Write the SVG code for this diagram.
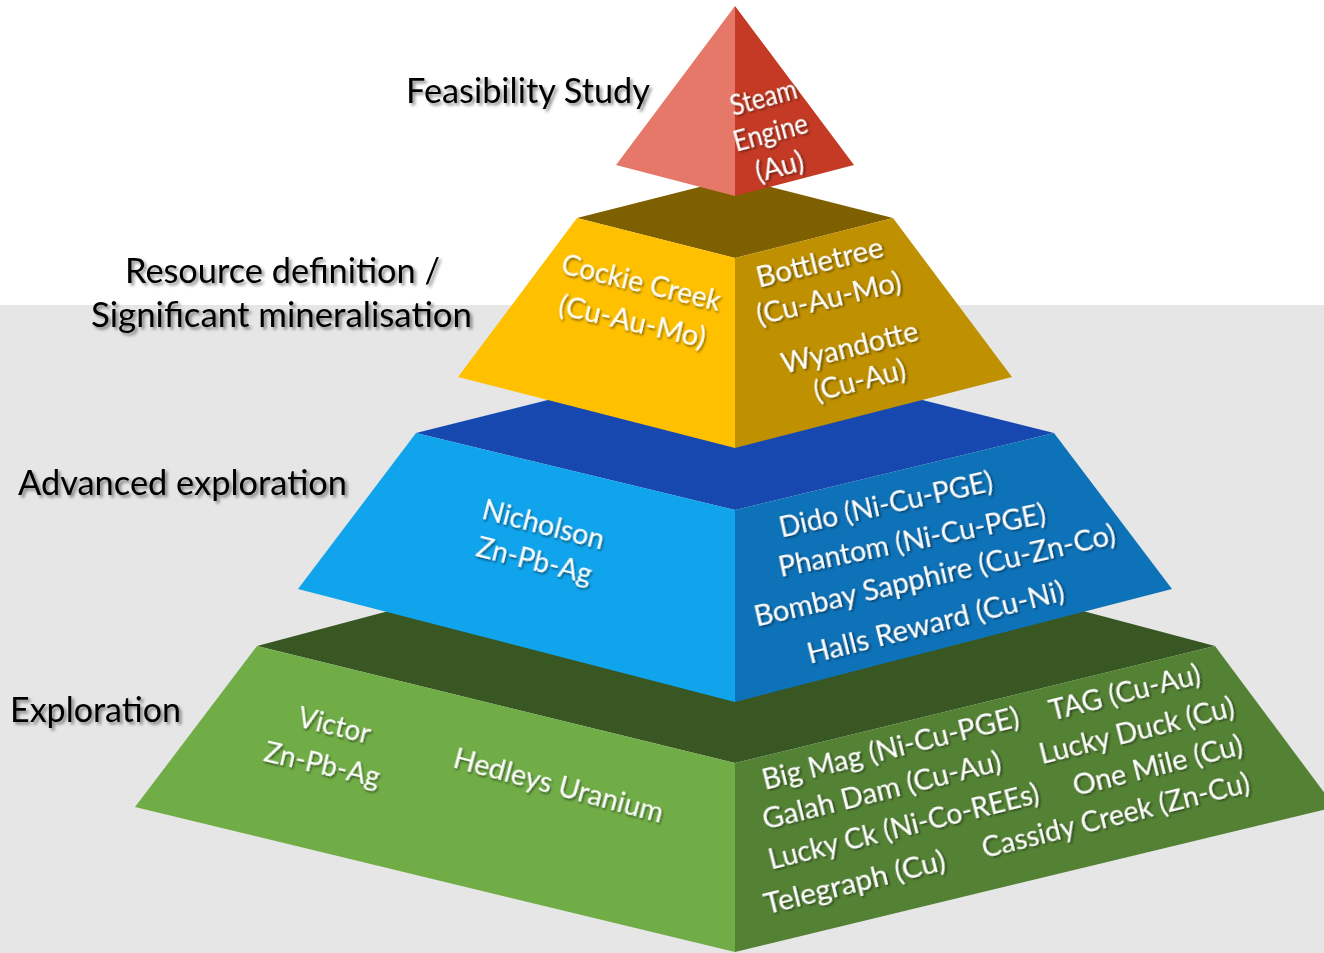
<svg xmlns="http://www.w3.org/2000/svg" width="1324" height="953" viewBox="0 0 1324 953">
<defs>
<filter id="shL" x="-10%" y="-40%" width="125%" height="190%"><feDropShadow dx="2.5" dy="2.5" stdDeviation="1.8" flood-color="#000" flood-opacity="0.45"/></filter>
<filter id="shW" x="-10%" y="-40%" width="125%" height="190%"><feDropShadow dx="1.5" dy="1.5" stdDeviation="1.2" flood-color="#000" flood-opacity="0.55"/></filter>
</defs>
<style>
.lbl{font-family:Lato,"Liberation Sans",sans-serif;font-size:35px;fill:#000;filter:url(#shL)}
.t{font-family:Lato,"Liberation Sans",sans-serif;font-size:28px;fill:#fff;text-anchor:middle;filter:url(#shW)}
</style>
<rect x="0" y="0" width="1324" height="305" fill="#ffffff"/>
<rect x="0" y="305" width="1324" height="648" fill="#E7E6E6"/>
<g id="connectors"/>
<g id="tier-exploration">
<polygon points="257,646 735,519 1215,646 735,763" fill="#385723"/>
<polygon points="257,646 735,763 735,952 135,807" fill="#70AD47"/>
<polygon points="735,763 1215,646 1335,807 735,952" fill="#548235"/>
<text class="t" x="332" y="735" transform="rotate(14 332 735)" textLength="74" lengthAdjust="spacingAndGlyphs">Victor</text>
<text class="t" x="320" y="774" transform="rotate(13 320 774)" textLength="118" lengthAdjust="spacingAndGlyphs">Zn-Pb-Ag</text>
<text class="t" x="556" y="795" transform="rotate(15 556 795)" textLength="216" lengthAdjust="spacingAndGlyphs">Hedleys Uranium</text>
<text class="t" x="893" y="758" transform="rotate(-14 893 758)" textLength="264" lengthAdjust="spacingAndGlyphs">Big Mag (Ni-Cu-PGE)</text>
<text class="t" x="884" y="800" transform="rotate(-14 884 800)" textLength="245" lengthAdjust="spacingAndGlyphs">Galah Dam (Cu-Au)</text>
<text class="t" x="906" y="836" transform="rotate(-14 906 836)" textLength="278" lengthAdjust="spacingAndGlyphs">Lucky Ck (Ni-Co-REEs)</text>
<text class="t" x="857" y="892" transform="rotate(-14 857 892)" textLength="186" lengthAdjust="spacingAndGlyphs">Telegraph (Cu)</text>
<text class="t" x="1127" y="702" transform="rotate(-14 1127 702)" textLength="155" lengthAdjust="spacingAndGlyphs">TAG (Cu-Au)</text>
<text class="t" x="1139" y="740" transform="rotate(-14 1139 740)" textLength="200" lengthAdjust="spacingAndGlyphs">Lucky Duck (Cu)</text>
<text class="t" x="1160" y="775" transform="rotate(-14 1160 775)" textLength="174" lengthAdjust="spacingAndGlyphs">One Mile (Cu)</text>
<text class="t" x="1118" y="825" transform="rotate(-14 1118 825)" textLength="275" lengthAdjust="spacingAndGlyphs">Cassidy Creek (Zn-Cu)</text>
</g>
<g id="tier-advanced">
<polygon points="416,433 735,353 1054,433 735,510" fill="#1748B0"/>
<polygon points="416,433 735,510 735,702 298,589" fill="#10A4EC"/>
<polygon points="735,510 1054,433 1172,589 735,702" fill="#0E72B8"/>
<text class="t" x="541" y="534" transform="rotate(14.5 541 534)" textLength="125" lengthAdjust="spacingAndGlyphs">Nicholson</text>
<text class="t" x="532" y="570" transform="rotate(14 532 570)" textLength="118" lengthAdjust="spacingAndGlyphs">Zn-Pb-Ag</text>
<text class="t" x="888" y="514" transform="rotate(-12.5 888 514)" textLength="218" lengthAdjust="spacingAndGlyphs">Dido (Ni-Cu-PGE)</text>
<text class="t" x="914" y="550" transform="rotate(-11.5 914 550)" textLength="272" lengthAdjust="spacingAndGlyphs">Phantom (Ni-Cu-PGE)</text>
<text class="t" x="937" y="585" transform="rotate(-13 937 585)" textLength="370" lengthAdjust="spacingAndGlyphs">Bombay Sapphire (Cu-Zn-Co)</text>
<text class="t" x="938" y="632" transform="rotate(-14 938 632)" textLength="264" lengthAdjust="spacingAndGlyphs">Halls Reward (Cu-Ni)</text>
</g>
<g id="tier-resource">
<polygon points="577,218 735,178 893,218 735,258" fill="#7F6000"/>
<polygon points="577,218 735,258 735,448 458,377" fill="#FFC000"/>
<polygon points="735,258 893,218 1012,377 735,448" fill="#BF9000"/>
<text class="t" x="639" y="292" transform="rotate(13.5 639 292)" textLength="163" lengthAdjust="spacingAndGlyphs">Cockie Creek</text>
<text class="t" x="630" y="331" transform="rotate(13 630 331)" textLength="150" lengthAdjust="spacingAndGlyphs">(Cu-Au-Mo)</text>
<text class="t" x="822" y="272" transform="rotate(-14 822 272)" textLength="130" lengthAdjust="spacingAndGlyphs">Bottletree</text>
<text class="t" x="831" y="308" transform="rotate(-13.5 831 308)" textLength="148" lengthAdjust="spacingAndGlyphs">(Cu-Au-Mo)</text>
<text class="t" x="852" y="357" transform="rotate(-14 852 357)" textLength="140" lengthAdjust="spacingAndGlyphs">Wyandotte</text>
<text class="t" x="862" y="390" transform="rotate(-14.5 862 390)" textLength="94" lengthAdjust="spacingAndGlyphs">(Cu-Au)</text>
</g>
<g id="tier-feasibility">
<polygon points="735,6 616,165 735,196" fill="#E6786A"/>
<polygon points="735,6 854,165 735,196" fill="#C43A24"/>
<text class="t" x="766" y="107" transform="rotate(-15.5 766 107)" textLength="68" lengthAdjust="spacingAndGlyphs">Steam</text>
<text class="t" x="773" y="142" transform="rotate(-15 773 142)" textLength="76" lengthAdjust="spacingAndGlyphs">Engine</text>
<text class="t" x="782" y="176" transform="rotate(-15 782 176)" textLength="49" lengthAdjust="spacingAndGlyphs">(Au)</text>
</g>
<g id="stage-labels">
<text class="lbl" x="406" y="103" textLength="244" lengthAdjust="spacingAndGlyphs">Feasibility Study</text>
<text class="lbl" x="125" y="283" textLength="315" lengthAdjust="spacingAndGlyphs">Resource definition /</text>
<text class="lbl" x="91" y="327" textLength="381" lengthAdjust="spacingAndGlyphs">Significant mineralisation</text>
<text class="lbl" x="18" y="495" textLength="329" lengthAdjust="spacingAndGlyphs">Advanced exploration</text>
<text class="lbl" x="10" y="722" textLength="171" lengthAdjust="spacingAndGlyphs">Exploration</text>
</g>
</svg>
